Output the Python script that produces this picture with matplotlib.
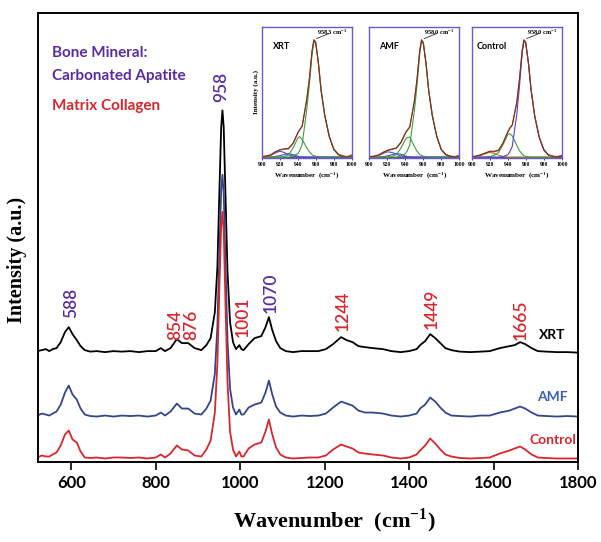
import numpy as np
import matplotlib
matplotlib.use('Agg')
import matplotlib.pyplot as plt

plt.rcParams['mathtext.fontset'] = 'custom'
plt.rcParams['mathtext.rm'] = 'Liberation Serif:bold'
plt.rcParams['mathtext.bf'] = 'Liberation Serif:bold'

# Основной спектр: волновые числа и интенсивности (относительно базовой линии)
wn = [520, 530, 540, 548, 556, 565, 575, 585, 594, 603,
      613, 622, 632, 645, 660, 680, 700, 720, 740, 760,
      780, 800, 812, 822, 835, 850, 862, 877, 892, 908,
      920, 930, 940, 946, 951, 955, 958, 961, 965, 970,
      976, 983, 990, 998, 1003, 1008, 1020, 1034, 1050, 1060,
      1068, 1076, 1085, 1095, 1108, 1125, 1145, 1165, 1185, 1203,
      1220, 1239, 1252, 1266, 1280, 1295, 1314, 1338, 1358, 1380,
      1400, 1418, 1426, 1438, 1450, 1462, 1474, 1486, 1500, 1520,
      1545, 1570, 1591, 1615, 1638, 1650, 1663, 1675, 1690, 1705,
      1725, 1750, 1775, 1800]

xrt = [1, 2, 3, 1, 3, 4, 10, 20, 25, 18,
       12, 6, 2, 0.5, 1, 0, 1, 0.5, 1, 0,
       1, 1, 4, 1, 4, 13, 9, 9, 4, 2,
       7, 14, 40, 85, 165, 225, 242, 225, 160, 80,
       30, 10, 3, 7, 3, 2, 8, 14, 16, 25,
       35, 22, 11, 4, 1, 0, 1, 1, 1, 3,
       8, 15, 12, 10, 6, 5, 4, 3, 1, 0,
       1, 3, 7, 11, 18, 14, 9, 4, 2, 0.5,
       0, 0.5, 1, 4, 6, 7, 10, 8, 4, 1,
       0.5, 0, 0, -0.5]

amf = [1, 3, 2, 1, 3, 5, 12, 24, 31, 22,
       17, 8, 2, 0.5, 0, 1, 0, 1, 0.5, 1,
       0, 1, 4, 1, 5, 13, 8, 8, 3, 2,
       8, 16, 43, 90, 168, 227, 242, 223, 155, 76,
       28, 9, 2, 7, 2, 2, 9, 12, 14, 24,
       36, 22, 10, 4, 1, 0, 1, 0.5, 1, 3,
       9, 15, 13, 11, 6, 4, 4, 3, 1, 0,
       1, 3, 8, 12, 19, 15, 9, 4, 1, 0.5,
       0, 1, 1, 4, 6, 8, 10, 8, 4, 1,
       0.5, 0, 0.5, 0]

control = [1, 3, 2, 2, 4, 6, 13, 24, 28, 19,
           16, 7, 1, 0.5, 1, 0, 1, 1, 0.5, 1,
           0, 1, 4, 1, 5, 13, 9, 8, 3, 2,
           9, 18, 46, 95, 175, 233, 247, 228, 158, 76,
           27, 9, 2, 7, 2, 2, 10, 14, 16, 27,
           39, 24, 11, 4, 1, 0, 0.5, 1, 1, 3,
           9, 14, 12, 10, 6, 5, 4, 3, 1, 0,
           1, 4, 8, 13, 20, 15, 9, 4, 2, 0.5,
           0, 0.5, 1, 5, 8, 10, 12, 9, 4, 1,
           0.5, 0, 0, 0]

series_names = ['XRT', 'AMF', 'Control']
series_offsets = [110.5, 46, 4]

# Подписи пиков
peak_labels = ['958', '588', '1070', '854', '876', '1001', '1244', '1449', '1665']
peak_x = [956, 599, 1073, 847, 883, 1005, 1242, 1453, 1664]
peak_y = [361, 145, 150, 123, 123, 126, 132, 134, 123]
peak_group = ['mineral', 'mineral', 'mineral', 'collagen', 'collagen',
              'collagen', 'collagen', 'collagen', 'collagen']

# Вставки: разложение пика 958
inset_wn = [900, 905, 910, 915, 920, 925, 930, 935, 940, 942, 945, 950, 953,
            956, 958, 960, 963, 966, 970, 975, 980, 985, 990, 995, 1000]

xrt_fit = [0, 0.005, 0.015, 0.04, 0.062, 0.067, 0.07, 0.118, 0.2, 0.229, 0.261, 0.48, 0.665,
           0.91, 1.0, 0.98, 0.803, 0.57, 0.36, 0.18, 0.07, 0.025, 0.01, 0.005, 0.02]
xrt_data = [0.005, 0.01, 0.02, 0.045, 0.06, 0.07, 0.075, 0.12, 0.205, 0.23, 0.265, 0.49, 0.67,
            0.9, 0.995, 0.975, 0.8, 0.565, 0.355, 0.175, 0.065, 0.02, 0.005, 0.0, 0.01]
xrt_main = [0, 0, 0, 0, 0, 0, 0, 0.01, 0.03, 0.05, 0.11, 0.40, 0.62,
            0.88, 0.985, 0.97, 0.80, 0.57, 0.36, 0.18, 0.07, 0.025, 0.01, 0, 0]
xrt_b942 = [0, 0, 0, 0, 0, 0.005, 0.02, 0.08, 0.16, 0.175, 0.15, 0.08, 0.045,
            0.02, 0.012, 0.008, 0.003, 0, 0, 0, 0, 0, 0, 0, 0]
xrt_b920 = [0, 0.005, 0.015, 0.035, 0.05, 0.04, 0.02, 0.008, 0.002, 0, 0, 0, 0,
            0, 0, 0, 0, 0, 0, 0, 0, 0, 0, 0, 0]
xrt_b930 = [0, 0, 0, 0.005, 0.012, 0.022, 0.03, 0.02, 0.008, 0.004, 0.001, 0, 0,
            0, 0, 0, 0, 0, 0, 0, 0, 0, 0, 0, 0]

amf_fit = [0, 0.005, 0.012, 0.035, 0.055, 0.065, 0.075, 0.12, 0.2, 0.225, 0.255, 0.47, 0.66,
           0.91, 1.0, 0.975, 0.8, 0.565, 0.355, 0.175, 0.065, 0.022, 0.008, 0.005, 0.015]
amf_data = [0.005, 0.008, 0.018, 0.04, 0.058, 0.068, 0.078, 0.125, 0.205, 0.228, 0.26, 0.475, 0.665,
            0.905, 0.995, 0.97, 0.795, 0.56, 0.35, 0.17, 0.06, 0.02, 0.005, 0.0, 0.008]
amf_main = [0, 0, 0, 0, 0, 0, 0, 0.01, 0.03, 0.05, 0.105, 0.39, 0.61,
            0.88, 0.985, 0.965, 0.795, 0.565, 0.355, 0.175, 0.065, 0.022, 0.008, 0, 0]
amf_b942 = [0, 0, 0, 0, 0, 0.005, 0.02, 0.075, 0.15, 0.165, 0.17, 0.09, 0.05,
            0.022, 0.013, 0.008, 0.003, 0, 0, 0, 0, 0, 0, 0, 0]
amf_b920 = [0, 0.005, 0.012, 0.03, 0.045, 0.04, 0.025, 0.01, 0.003, 0, 0, 0, 0,
            0, 0, 0, 0, 0, 0, 0, 0, 0, 0, 0, 0]
amf_b930 = [0, 0, 0, 0.004, 0.01, 0.02, 0.03, 0.025, 0.01, 0.005, 0.002, 0, 0,
            0, 0, 0, 0, 0, 0, 0, 0, 0, 0, 0, 0]

ctl_fit = [0, 0.005, 0.015, 0.03, 0.045, 0.045, 0.055, 0.12, 0.21, 0.24, 0.27, 0.46, 0.655,
           0.905, 1.0, 0.976, 0.802, 0.57, 0.35, 0.17, 0.065, 0.02, 0.008, 0.005, 0.015]
ctl_data = [0.005, 0.01, 0.02, 0.035, 0.05, 0.05, 0.06, 0.125, 0.215, 0.245, 0.275, 0.465, 0.66,
            0.9, 0.995, 0.97, 0.8, 0.565, 0.345, 0.165, 0.06, 0.018, 0.005, 0.0, 0.01]
ctl_main = [0, 0, 0, 0, 0, 0, 0, 0.005, 0.02, 0.04, 0.09, 0.36, 0.6,
            0.88, 0.99, 0.97, 0.8, 0.57, 0.35, 0.17, 0.065, 0.02, 0.008, 0, 0]
ctl_b942 = [0, 0, 0, 0, 0.005, 0.015, 0.04, 0.11, 0.19, 0.2, 0.18, 0.1, 0.055,
            0.025, 0.012, 0.006, 0.002, 0, 0, 0, 0, 0, 0, 0, 0]
ctl_b920 = [0, 0.005, 0.015, 0.03, 0.04, 0.03, 0.015, 0.005, 0, 0, 0, 0, 0,
            0, 0, 0, 0, 0, 0, 0, 0, 0, 0, 0, 0]

inset_names = ['XRT', 'AMF', 'Control']
inset_peaks = ['958.3 cm$^{-1}$', '958.0 cm$^{-1}$', '958.0 cm$^{-1}$']

# Цвета
c_black = 'black'
c_blue = '#34468a'
c_red = '#d8262c'
c_purple = '#5a2ca0'
c_frame = '#6a5acd'
sans = ['Lato', 'DejaVu Sans']
serif = ['Liberation Serif', 'DejaVu Serif']

fig = plt.figure(figsize=(6.01, 5.42), dpi=100)
ax = fig.add_axes([0.0624, 0.1467, 0.8993, 0.8293])

x = np.array(wn)
colors = [c_black, c_blue, c_red]
for vals, off, col in zip([xrt, amf, control], series_offsets, colors):
    ax.plot(x, np.array(vals) + off, color=col, linewidth=1.3)

ax.set_xlim(520, 1800)
ax.set_ylim(0, 450)
ax.set_yticks([])
ax.set_xticks([600, 800, 1000, 1200, 1400, 1600, 1800])
ax.tick_params(axis='x', direction='out', length=6, width=1.2, pad=3)
for lab in ax.get_xticklabels():
    lab.set_family(sans)
    lab.set_fontweight('bold')
    lab.set_fontsize(12)
for s in ax.spines.values():
    s.set_linewidth(1.4)

ax.set_xlabel('Wavenumber  (cm$^{-1}$)', family=serif, fontweight='bold', fontsize=16)
ax.xaxis.set_label_coords(0.55, -0.097)
ax.set_ylabel('Intensity (a.u.)', family=serif, fontweight='bold', fontsize=14.5)
ax.yaxis.set_label_coords(-0.02, 0.45)

# Подписи пиков
for lab, px, py, grp in zip(peak_labels, peak_x, peak_y, peak_group):
    col = c_purple if grp == 'mineral' else c_red
    ax.text(px, py, lab, rotation=90, ha='center', va='bottom', color=col,
            family=sans, fontweight='semibold', fontsize=12.5)

# Легенда-подписи
ax.text(554, 410, 'Bone Mineral:', color=c_purple, family=sans, fontweight='bold',
        fontsize=11, va='center', ha='left')
ax.text(554, 387, 'Carbonated Apatite', color=c_purple, family=sans, fontweight='bold',
        fontsize=11, va='center', ha='left')
ax.text(554, 357, 'Matrix Collagen', color=c_red, family=sans, fontweight='bold',
        fontsize=11, va='center', ha='left')

# Названия серий
series_lab_y = [128, 66, 23]
series_lab_col = [c_black, '#3a5fb0', c_red]
for name, ly, col in zip(series_names, series_lab_y, series_lab_col):
    ax.text(1740, ly, name, color=col, family=sans, fontweight='bold', fontsize=10,
            ha='center', va='center')

# Вставки
inset_left = [0.4354, 0.6145, 0.7849]
inset_sets = [
    [(xrt_b920, '#4b4bc8'), (xrt_b930, '#4b4bc8'), (xrt_b942, '#3f9f3f'),
     (xrt_main, '#3f9f3f'), (xrt_fit, '#e0403a'), (xrt_data, '#6b3a1e')],
    [(amf_b920, '#4b4bc8'), (amf_b930, '#4b4bc8'), (amf_b942, '#3f9f3f'),
     (amf_main, '#3f9f3f'), (amf_fit, '#e0403a'), (amf_data, '#6b3a1e')],
    [(ctl_b920, '#a08a2a'), (ctl_b942, '#3f9f3f'), (ctl_main, '#5a3fd0'),
     (ctl_fit, '#e0403a'), (ctl_data, '#6b3a1e')],
]
for i, (left, curves) in enumerate(zip(inset_left, inset_sets)):
    ia = fig.add_axes([left, 0.708, 0.1498, 0.2428])
    ia.axhline(0, color='#555555', linewidth=0.9)
    for vals, col in curves:
        ia.plot(inset_wn, vals, color=col, linewidth=0.8)
    ia.set_xlim(900, 1000)
    ia.set_ylim(-0.01, 1.11)
    ia.set_yticks([])
    ia.set_xticks([900, 920, 940, 960, 980, 1000])
    ia.tick_params(axis='x', length=1.5, width=0.5, pad=1.5, labelsize=4)
    for lab in ia.get_xticklabels():
        lab.set_family(serif)
        lab.set_fontweight('bold')
    for s in ia.spines.values():
        s.set_color(c_frame)
        s.set_linewidth(1.0)
    ia.set_xlabel('Wavenumber  (cm$^{-1}$)', family=serif, fontweight='bold',
                  fontsize=5, labelpad=2)
    if i == 0:
        ia.set_ylabel('Intensity (a.u.)', family=serif, fontweight='bold',
                      fontsize=5, labelpad=2)
    ia.text(922, 0.94, inset_names[i], family=sans, fontweight='bold', fontsize=6.5,
            ha='center', va='center')
    ia.annotate(inset_peaks[i], xy=(958, 1.0), xytext=(961, 1.06), fontsize=4.5,
                family=serif, fontweight='bold', va='center', ha='left',
                arrowprops=dict(arrowstyle='-', color='#333333', linewidth=0.6))

fig.savefig('out.png', dpi=100)
